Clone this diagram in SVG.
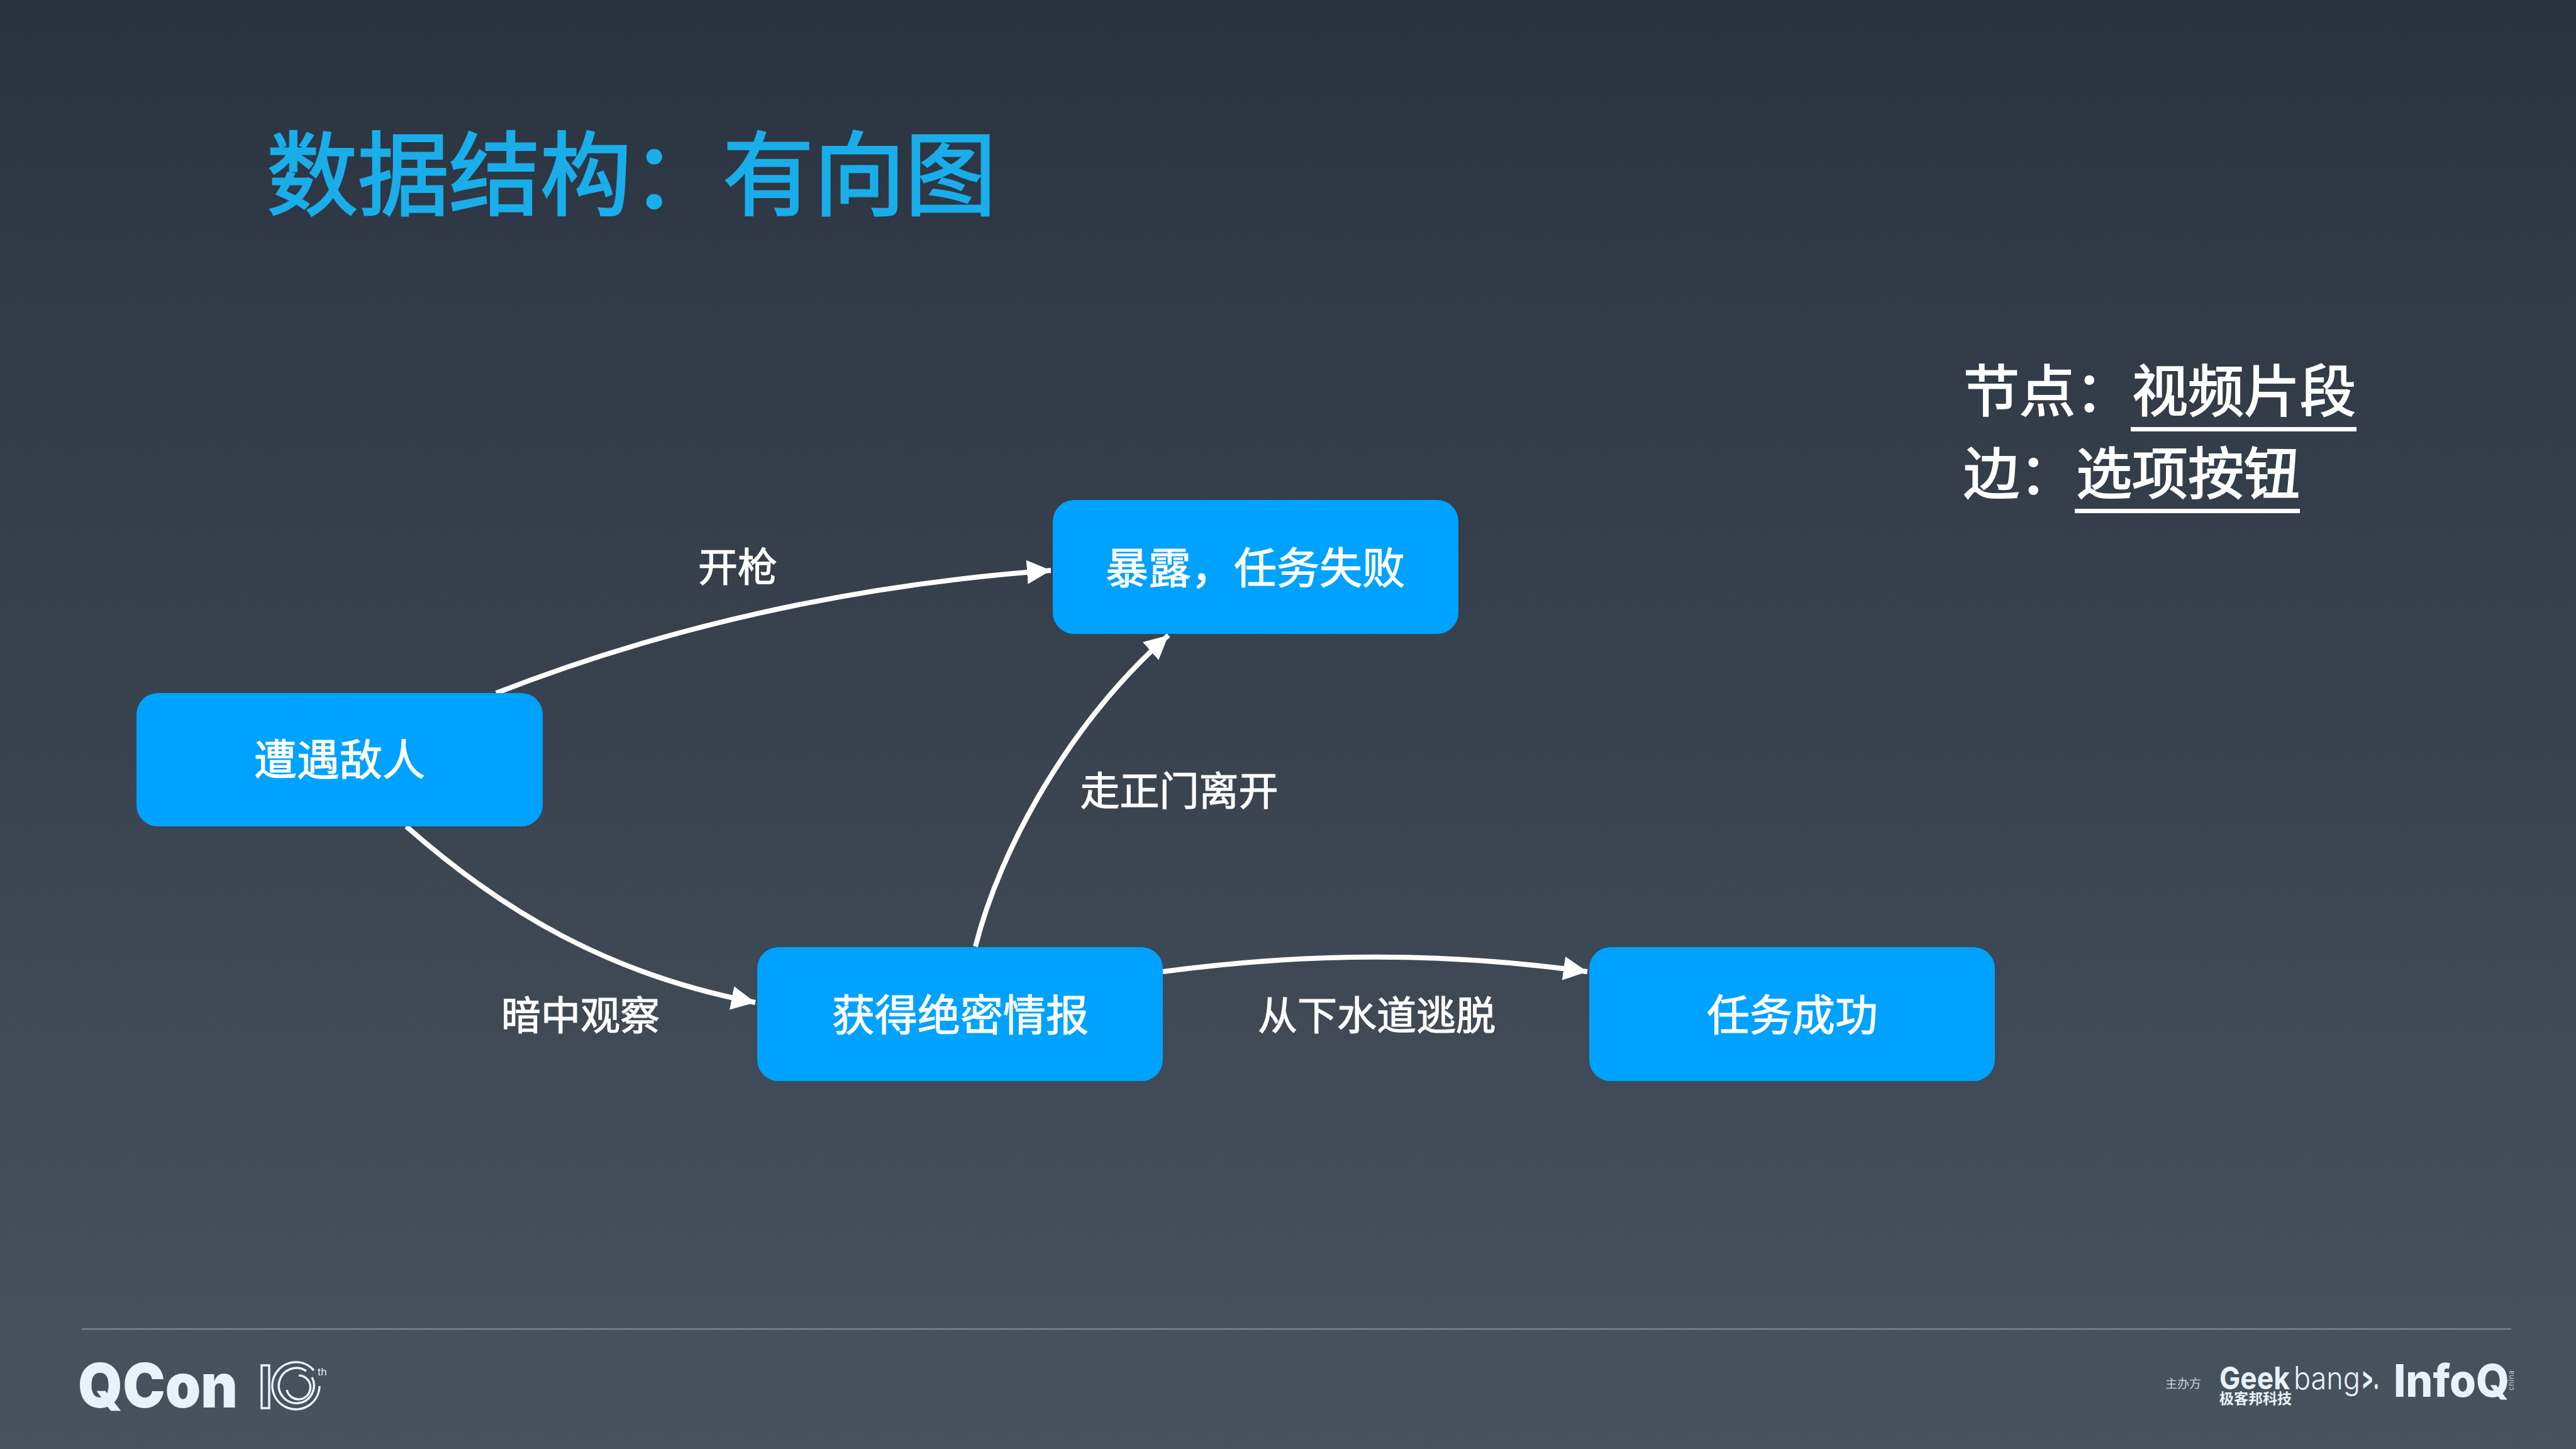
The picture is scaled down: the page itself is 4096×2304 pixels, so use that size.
<svg xmlns="http://www.w3.org/2000/svg" width="4096" height="2304" viewBox="0 0 4096 2304">
<style>
text{font-family:"Noto Sans CJK SC","Noto Sans",sans-serif;fill:#fff}
.node{fill:#00a2ff}
.nl{font-size:68px;text-anchor:middle;stroke:#fff;stroke-width:1.2}
.el{font-size:63px;text-anchor:middle;stroke:#fff;stroke-width:1.2}
.side{font-size:89px;stroke:#fff;stroke-width:2}
.edge{fill:none;stroke:#fff;stroke-width:8}
.ring{fill:none;stroke:#e6f3fa;stroke-width:3.5}
.logo{fill:#e6f3fa;font-family:"Inter","Liberation Sans",sans-serif}
</style>
<defs>
<linearGradient id="bg" x1="0" y1="0" x2="0" y2="1"><stop offset="0" stop-color="#2b3340"/><stop offset="1" stop-color="#47535f"/></linearGradient>
<marker id="ah" markerUnits="userSpaceOnUse" markerWidth="42" markerHeight="42" refX="38" refY="19" orient="auto"><path d="M0,0L38,19L0,38Z" fill="#fff"/></marker>
</defs>
<rect width="4096" height="2304" fill="url(#bg)"/>
<text id="title" x="424" y="331" font-size="145" style="fill:#19aeea;stroke:#19aeea;stroke-width:3">数据结构：有向图</text>
<g id="connectors">
<path class="edge" marker-end="url(#ah)" d="M789,1102C1050,1000 1350,930 1671,907"/>
<path class="edge" marker-end="url(#ah)" d="M646,1314C800,1450 970,1550 1201,1594"/>
<path class="edge" marker-end="url(#ah)" d="M1551,1505C1590,1350 1700,1150 1858,1010"/>
<path class="edge" marker-end="url(#ah)" d="M1849,1545C2080,1514 2300,1514 2524,1545"/>
</g>
<g id="n1"><rect class="node" x="217" y="1102" width="646" height="212" rx="34"/><text class="nl" x="540" y="1233">遭遇敌人</text></g>
<g id="n2"><rect class="node" x="1674" y="795" width="645" height="213" rx="34"/><text class="nl" x="1996" y="928">暴露，任务失败</text></g>
<g id="n3"><rect class="node" x="1204" y="1506" width="645" height="213" rx="34"/><text class="nl" x="1527" y="1639">获得绝密情报</text></g>
<g id="n4"><rect class="node" x="2527" y="1506" width="645" height="213" rx="34"/><text class="nl" x="2850" y="1639">任务成功</text></g>
<g id="edge-labels">
<text class="el" x="1173" y="924">开枪</text>
<text class="el" x="923" y="1637">暗中观察</text>
<text class="el" x="1875" y="1280">走正门离开</text>
<text class="el" x="2189" y="1637">从下水道逃脱</text>
</g>
<g id="legend">
<text class="side" x="3122" y="654">节点：</text><text class="side" x="3390" y="654">视频片段</text>
<rect x="3388" y="679" width="359" height="7" fill="#fff"/>
<text class="side" x="3122" y="785">边：</text><text class="side" x="3301" y="785">选项按钮</text>
<rect x="3299" y="809" width="358" height="7" fill="#fff"/>
</g>
<g id="footer">
<rect x="130" y="2112" width="3863" height="2.5" fill="#75838f"/>
<text class="logo" x="124" y="2238" font-size="98" font-weight="900" textLength="254" lengthAdjust="spacingAndGlyphs">QCon</text>
<rect class="ring" x="416" y="2171" width="12" height="68"/>
<path class="ring" d="M499,2179A37.5,37.5 0 1 0 508,2204"/>
<path class="ring" d="M487,2180A28,28 0 1 0 496,2190"/>
<path class="ring" d="M475,2187A19,19 0 1 1 456,2210"/>
<text class="logo" x="505" y="2187" font-size="16">th</text>
<text x="3443" y="2207" font-size="19" style="fill:#c8d3da">主办方</text>
<text class="logo" x="3529" y="2209" font-size="50" font-weight="700" textLength="112" lengthAdjust="spacingAndGlyphs">Geek</text>
<text class="logo" x="3647" y="2209" font-size="50" font-weight="300" textLength="106" lengthAdjust="spacingAndGlyphs">bang</text>
<text class="logo" x="3755" y="2209" font-size="50" font-weight="700" textLength="28" lengthAdjust="spacingAndGlyphs">&gt;.</text>
<text x="3529" y="2232" font-size="23" font-weight="700" style="fill:#e6f3fa">极客邦科技</text>
<text class="logo" x="3806" y="2221" font-size="72" font-weight="800" textLength="184" lengthAdjust="spacingAndGlyphs">InfoQ</text>
<text transform="translate(3997,2211) rotate(-90)" class="logo" font-size="11" textLength="32" style="fill:#c8d3da">china</text>
</g>
</svg>
